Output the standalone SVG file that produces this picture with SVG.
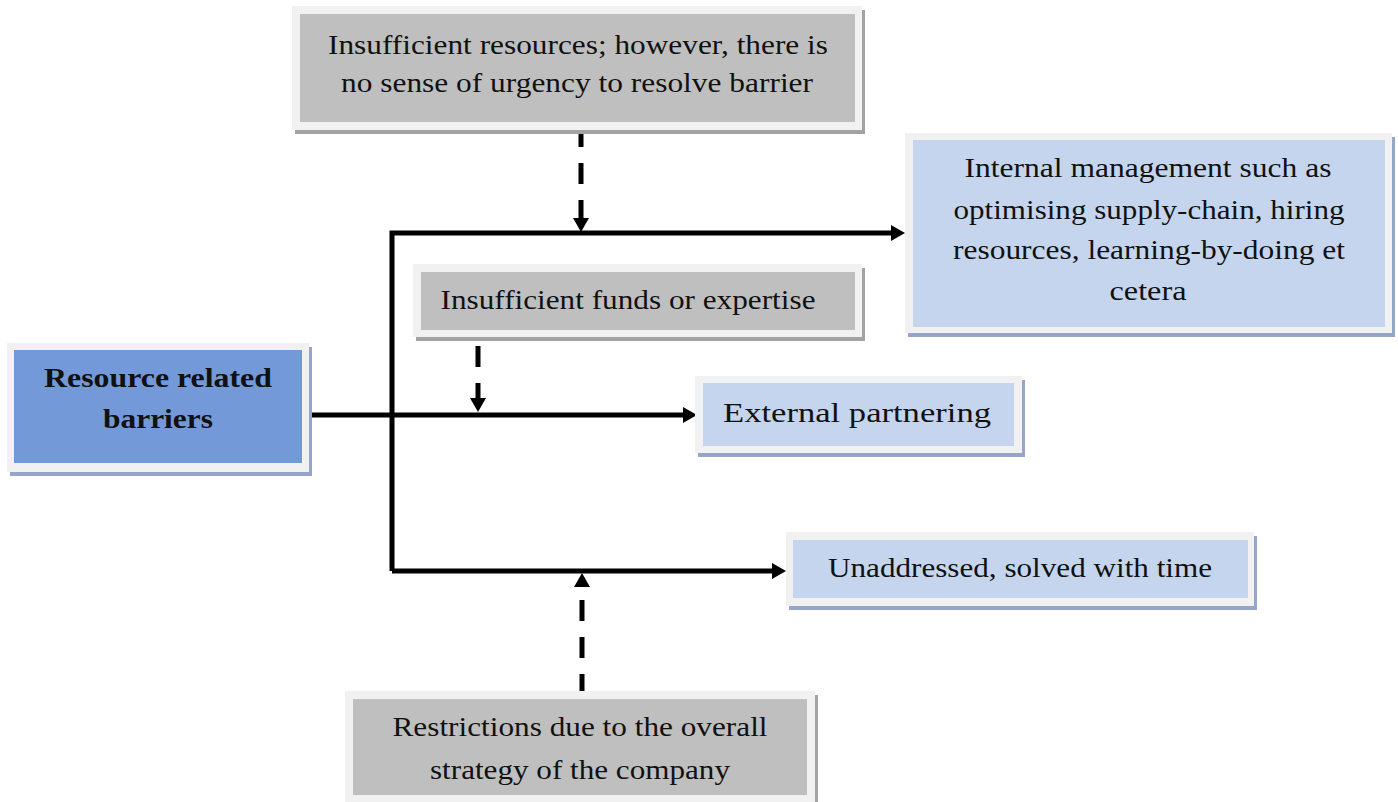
<svg xmlns="http://www.w3.org/2000/svg" width="1398" height="802" viewBox="0 0 1398 802">
  <defs>
    <style>
      .frame { fill: #f1f1f1; }
      .sh-blue { fill: #96a6c8; }
      .sh-grey { fill: #a3a3a3; }
      .f-grey { fill: #bfbfbf; }
      .f-light { fill: #c6d5ee; }
      .f-dark { fill: #7499d8; }
      .t { font-family: "Liberation Serif", "DejaVu Serif", serif; font-size: 28px; fill: #111; text-anchor: middle; }
      .tb { font-weight: bold; }
      .line { fill: none; stroke: #000; stroke-width: 5; }
      .dash { fill: none; stroke: #000; stroke-width: 5; stroke-dasharray: 21 16; }
      .head { fill: #000; }
    </style>
  </defs>

  <!-- connectors: solid branches from the source, dashed influences, filled heads -->
  <g id="connectors">
    <path class="line" d="M392,571 L392,233 L892,233"/>
    <path class="line" d="M306,415 L684,415"/>
    <path class="line" d="M392,571 L773,571"/>
    <path class="dash" d="M581,126 L581,218"/>
    <path class="dash" d="M478,346 L478,398" stroke-dasharray="21 17"/>
    <path class="dash" d="M582,695 L582,599"/>
    <polygon class="head" points="905,233 891,225 891,241"/>
    <polygon class="head" points="697,415 683,407 683,423"/>
    <polygon class="head" points="786,571 772,563 772,579"/>
    <polygon class="head" points="581,232 573,218 589,218"/>
    <polygon class="head" points="478,412 470,398 486,398"/>
    <polygon class="head" points="582,573 574,587 590,587"/>
  </g>

  <!-- Insufficient resources (top) -->
  <g id="node-urgency">
    <rect class="sh-grey" x="295" y="10" width="570" height="124"/>
    <rect class="frame" x="292" y="6" width="570" height="124"/>
    <rect class="f-grey" x="300" y="14" width="555" height="108"/>
    <text class="t" x="578" y="54" textLength="500" lengthAdjust="spacingAndGlyphs">Insufficient resources; however, there is</text>
    <text class="t" x="577" y="92" textLength="472" lengthAdjust="spacingAndGlyphs">no sense of urgency to resolve barrier</text>
  </g>

  <!-- Internal management -->
  <g id="node-internal">
    <rect class="sh-blue" x="908" y="137" width="487" height="200"/>
    <rect class="frame" x="905" y="133" width="487" height="200"/>
    <rect class="f-light" x="913" y="140" width="472" height="187"/>
    <text class="t" x="1148" y="177" textLength="367" lengthAdjust="spacingAndGlyphs">Internal management such as</text>
    <text class="t" x="1149" y="219" textLength="391" lengthAdjust="spacingAndGlyphs">optimising supply-chain, hiring</text>
    <text class="t" x="1149" y="259" textLength="392" lengthAdjust="spacingAndGlyphs">resources, learning-by-doing et</text>
    <text class="t" x="1148" y="300" textLength="77" lengthAdjust="spacingAndGlyphs">cetera</text>
  </g>

  <!-- Insufficient funds -->
  <g id="node-funds">
    <rect class="sh-grey" x="416" y="268" width="449" height="73"/>
    <rect class="frame" x="413" y="264" width="449" height="73"/>
    <rect class="f-grey" x="421" y="272" width="434" height="58"/>
    <text class="t" x="628" y="309" textLength="375" lengthAdjust="spacingAndGlyphs">Insufficient funds or expertise</text>
  </g>

  <!-- Resource related barriers -->
  <g id="node-resource">
    <rect class="sh-blue" x="10" y="347" width="302" height="129"/>
    <rect class="frame" x="7" y="343" width="302" height="129"/>
    <rect class="f-dark" x="14" y="350" width="288" height="113"/>
    <text class="t tb" x="158" y="387" textLength="228" lengthAdjust="spacingAndGlyphs">Resource related</text>
    <text class="t tb" x="158" y="428" textLength="110" lengthAdjust="spacingAndGlyphs">barriers</text>
  </g>

  <!-- External partnering -->
  <g id="node-external">
    <rect class="sh-blue" x="698" y="380" width="327" height="77"/>
    <rect class="frame" x="695" y="376" width="327" height="77"/>
    <rect class="f-light" x="703" y="383" width="311" height="63"/>
    <text class="t" x="857" y="422" textLength="268" lengthAdjust="spacingAndGlyphs">External partnering</text>
  </g>

  <!-- Unaddressed -->
  <g id="node-unaddressed">
    <rect class="sh-blue" x="789" y="536" width="468" height="74"/>
    <rect class="frame" x="786" y="532" width="468" height="74"/>
    <rect class="f-light" x="793" y="540" width="455" height="58"/>
    <text class="t" x="1020" y="577" textLength="384" lengthAdjust="spacingAndGlyphs">Unaddressed, solved with time</text>
  </g>

  <!-- Restrictions -->
  <g id="node-restrictions">
    <rect class="sh-grey" x="348" y="695" width="470" height="112"/>
    <rect class="frame" x="345" y="691" width="470" height="112"/>
    <rect class="f-grey" x="353" y="699" width="454" height="96"/>
    <text class="t" x="580" y="736" textLength="375" lengthAdjust="spacingAndGlyphs">Restrictions due to the overall</text>
    <text class="t" x="580" y="779" textLength="300" lengthAdjust="spacingAndGlyphs">strategy of the company</text>
  </g>
</svg>
